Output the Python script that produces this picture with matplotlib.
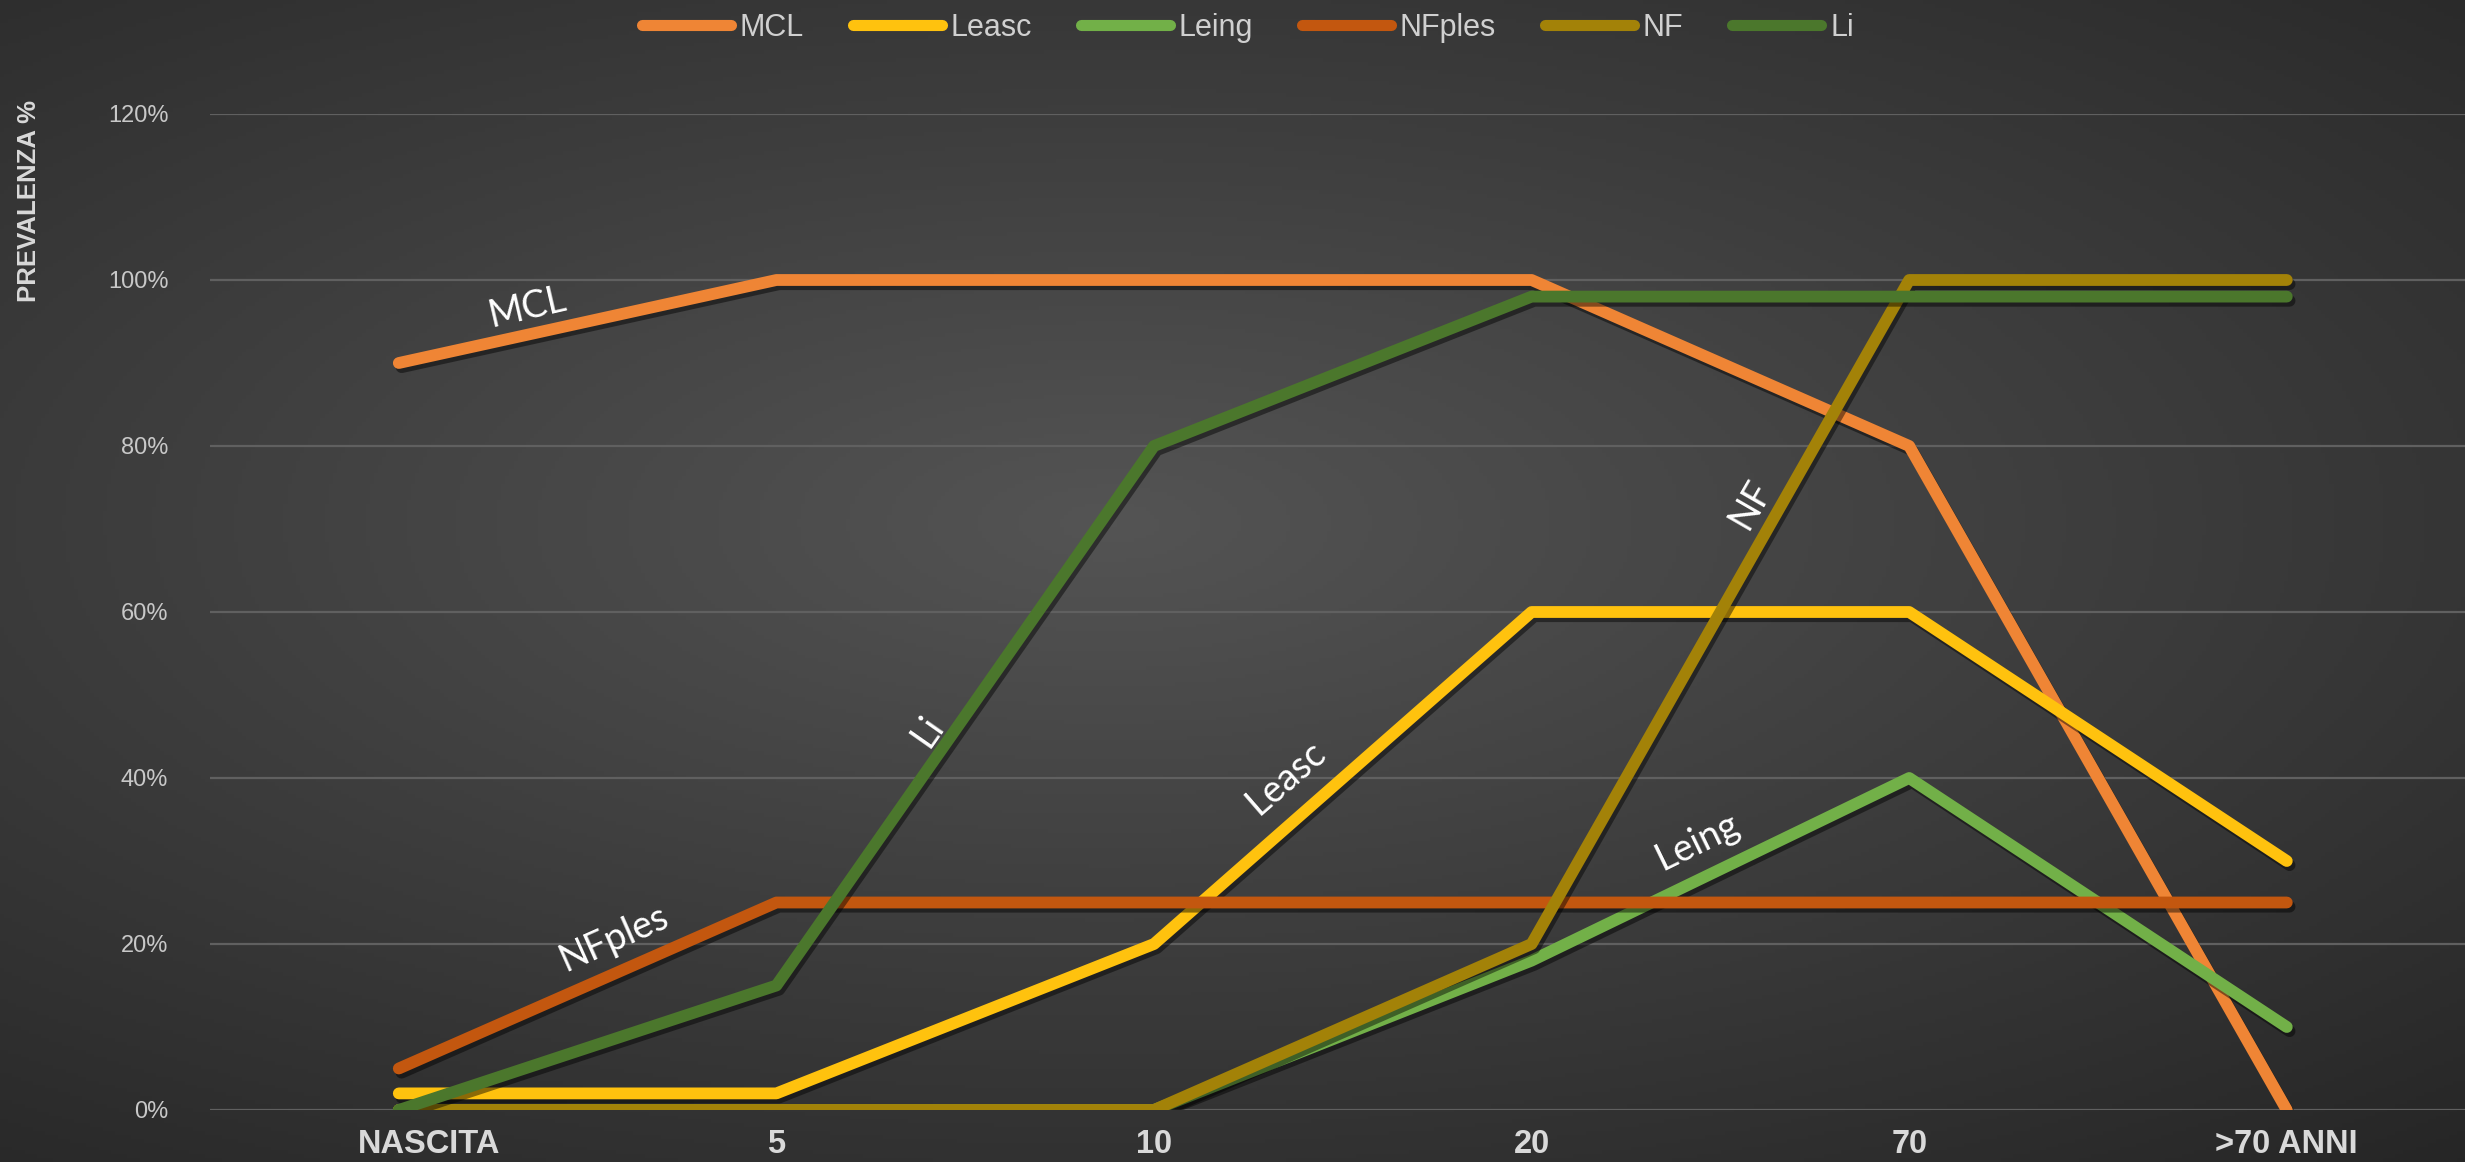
import numpy as np
import matplotlib
matplotlib.use("Agg")
import matplotlib.pyplot as plt
from matplotlib import font_manager
from matplotlib.colors import LinearSegmentedColormap
import matplotlib.patheffects as pe
import matplotlib.transforms as mtransforms

# ---------------- data ----------------
categories = ["NASCITA", "5", "10", "20", "70", ">70 ANNI"]
series_names = ["MCL", "Leasc", "Leing", "NFples", "NF", "Li"]
mcl    = [0.90, 1.00, 1.00, 1.00, 0.80, 0.00]
leasc  = [0.02, 0.02, 0.20, 0.60, 0.60, 0.30]
leing  = [0.00, 0.00, 0.00, 0.18, 0.40, 0.10]
nfples = [0.05, 0.25, 0.25, 0.25, 0.25, 0.25]
nf     = [0.00, 0.00, 0.00, 0.20, 1.00, 1.00]
li     = [0.00, 0.15, 0.80, 0.98, 0.98, 0.98]
y_ticks = [0.0, 0.2, 0.4, 0.6, 0.8, 1.0, 1.2]
y_tick_labels = ["0%", "20%", "40%", "60%", "80%", "100%", "120%"]
y_label = "PREVALENZA %"

# inline labels: (text, x, y, rotation)
inline_labels = [
    ("MCL",    0.34, 0.967, 13),
    ("NFples", 0.57, 0.207, 24),
    ("Li",     1.40, 0.457, 55),
    ("Leasc",  2.35, 0.400, 41),
    ("Leing",  3.44, 0.324, 26),
    ("NF",     3.58, 0.730, 60),
]

colors = ["#EF8535", "#FFC20E", "#72B048", "#C3570F", "#A38208", "#4B772C"]

# ---------------- fonts ----------------
avail = {f.name for f in font_manager.fontManager.ttflist}
narrow = "Liberation Sans Narrow" if "Liberation Sans Narrow" in avail else "Liberation Sans"
label_font = "Lato" if "Lato" in avail else "DejaVu Sans"

W, H = 2465, 1162
fig = plt.figure(figsize=(W / 100, H / 100), dpi=100)

# background radial gradient
bg = fig.add_axes([0, 0, 1, 1], zorder=-10)
yy, xx = np.mgrid[0:1:300j, 0:1:600j]
r = np.sqrt(((xx - 0.45) / 0.85) ** 2 + ((yy - 0.55) / 0.75) ** 2)
r = np.clip(r, 0, 1)
cmap = LinearSegmentedColormap.from_list("bg", ["#545454", "#3c3c3c", "#252525"])
bg.imshow(r, cmap=cmap, extent=[0, 1, 0, 1], aspect="auto", origin="lower", vmin=0, vmax=1)
bg.axis("off")

left = 210 / W
bottom = 1 - 1110 / H
top = 1 - 114 / H
width = 6 * 377.6 / W
ax = fig.add_axes([left, bottom, width, top - bottom])
ax.set_facecolor("none")

x = np.arange(len(categories))
all_series = [mcl, leasc, leing, nfples, nf, li]
for i, (name, vals) in enumerate(zip(series_names, all_series)):
    ax.plot(x, vals, color=colors[i], lw=8.5, label=name, solid_capstyle="round",
            solid_joinstyle="round", zorder=3 + i,
            path_effects=[pe.SimpleLineShadow(offset=(2, -3), shadow_color="black", alpha=0.45),
                          pe.Normal()])

ax.set_xlim(-0.5, len(categories) - 0.5)
ax.set_ylim(0, 1.2)
ax.set_yticks(y_ticks)
ax.set_yticklabels(y_tick_labels, fontfamily=narrow, fontsize=17, color="#c8c8c8")
ax.set_xticks(x)
ax.set_xticklabels(categories, fontfamily=narrow, fontsize=23.5, fontweight="bold", color="#d9d9d9")
ax.tick_params(axis="y", length=0, pad=30)
ax.tick_params(axis="x", length=0, pad=14)
ax.grid(axis="y", color="#606060", lw=1.6, zorder=1)
ax.grid(axis="x", visible=False)
for s in ax.spines.values():
    s.set_visible(False)

# first category label sits a bit to the right of its point in the reference
first = ax.get_xticklabels()[0]
first.set_transform(first.get_transform() + mtransforms.ScaledTranslation(0.3, 0, fig.dpi_scale_trans))

for txt, lx, ly, rot in inline_labels:
    ax.text(lx, ly, txt, rotation=rot, ha="center", va="center", color="white",
            fontsize=27, fontfamily=label_font, zorder=20, rotation_mode="anchor")

fig.text(29 / W, 1 - 201 / H, y_label, rotation=90, ha="center", va="center",
         fontfamily=narrow, fontweight="bold", fontsize=18.5, color="#d9d9d9")

leg = fig.legend(loc="center", bbox_to_anchor=(1248 / W, 1 - 28 / H), ncol=6, frameon=False,
                 prop={"family": narrow, "size": 22}, handlelength=2.9, handletextpad=0.3,
                 columnspacing=1.6, labelcolor="#d0d0d0")
for h in leg.get_lines():
    h.set_linewidth(8)
    h.set_path_effects([])

fig.savefig("out.png", dpi=100)
